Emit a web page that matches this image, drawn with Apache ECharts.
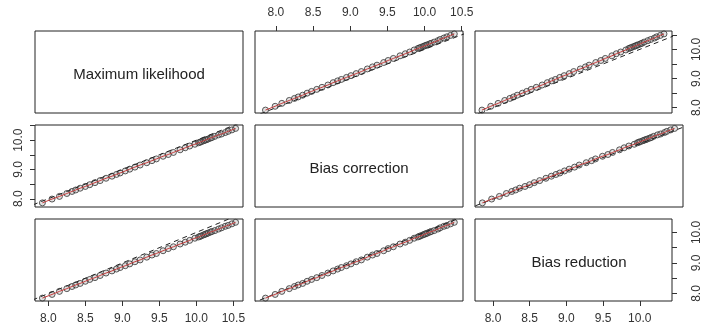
<!DOCTYPE html>
<html>
<head>
<meta charset="utf-8">
<script src="https://cdn.jsdelivr.net/npm/echarts@6/dist/echarts.min.js"></script>
<style>
	html, body { margin: 0; padding: 0; background: #fff; }
	#chart { width: 703px; height: 329px; }
</style>
</head>
<body>
<div id="chart"></div>
<script>
// variable names (diagonal of the pairs plot)
var varNames = ['Maximum likelihood', 'Bias correction', 'Bias reduction'];

// estimates, one entry per simulated sample
var ml = [7.92, 8.05, 8.15, 8.25, 8.32, 8.37, 8.43, 8.50, 8.56, 8.63, 8.70, 8.78, 8.86, 8.92, 8.97,
	9.04, 9.10, 9.17, 9.24, 9.33, 9.40, 9.46, 9.55, 9.62, 9.69, 9.78, 9.85, 9.91, 9.98, 10.03,
	10.05, 10.07, 10.10, 10.12, 10.14, 10.16, 10.19, 10.21, 10.25, 10.30, 10.34, 10.39, 10.43, 10.48, 10.53];
var bc = [7.86, 7.99, 8.08, 8.18, 8.25, 8.30, 8.36, 8.42, 8.48, 8.55, 8.62, 8.70, 8.77, 8.83, 8.88,
	8.95, 9.01, 9.08, 9.15, 9.23, 9.30, 9.36, 9.45, 9.51, 9.58, 9.67, 9.74, 9.80, 9.86, 9.91,
	9.93, 9.95, 9.98, 10.00, 10.02, 10.04, 10.07, 10.09, 10.13, 10.18, 10.21, 10.26, 10.30, 10.35, 10.40];
var br = [7.85, 7.97, 8.07, 8.16, 8.23, 8.28, 8.33, 8.40, 8.46, 8.52, 8.59, 8.67, 8.74, 8.80, 8.85,
	8.91, 8.97, 9.04, 9.10, 9.19, 9.26, 9.31, 9.40, 9.47, 9.53, 9.62, 9.68, 9.74, 9.81, 9.85,
	9.87, 9.89, 9.92, 9.94, 9.96, 9.98, 10.01, 10.03, 10.06, 10.11, 10.15, 10.20, 10.23, 10.28, 10.33];

// tick values per variable, labels drawn every whole unit on the vertical axes
var ticks = [
	[8.0, 8.5, 9.0, 9.5, 10.0, 10.5],
	[8.0, 8.5, 9.0, 9.5, 10.0, 10.5],
	[8.0, 8.5, 9.0, 9.5, 10.0]
];
var yLabelTicks = [8.0, 9.0, 10.0];
// identity line y = x
var refLine = [7.0, 11.0];

var vars = [ml, bc, br];
// axis ranges (data range padded 4% like R)
var ranges = [[7.82, 10.63], [7.719, 10.517], [7.755, 10.439]];

var lefts = [35, 255, 475];
var tops = [31, 125, 219];
var W = 208, H = 82;
var font = 'Liberation Sans, Arial, Helvetica, sans-serif';

var grids = [], xAxes = [], yAxes = [], series = [], titles = [];

function fmt(v) { return v.toFixed(1); }

for (var i = 0; i < 3; i++) {
	for (var j = 0; j < 3; j++) {
		var k = i * 3 + j;
		grids.push({
			left: lefts[j], top: tops[i], width: W, height: H,
			show: true, borderColor: '#222', borderWidth: 1, backgroundColor: 'transparent'
		});
		var showX = (i == 2 && j != 1) || (i == 0 && j == 1);
		var showY = (j == 0 && i == 1) || (j == 2 && i != 1);
		xAxes.push({
			type: 'value', gridIndex: k, min: ranges[j][0], max: ranges[j][1],
			position: i == 0 ? 'top' : 'bottom',
			axisLine: { show: false },
			splitLine: { show: false },
			axisTick: { show: showX, length: 5, lineStyle: { color: '#333' }, customValues: ticks[j] },
			axisLabel: { show: showX, margin: 12, color: '#333', fontSize: 12, fontFamily: font,
				customValues: ticks[j], formatter: fmt }
		});
		yAxes.push({
			type: 'value', gridIndex: k, min: ranges[i][0], max: ranges[i][1],
			position: j == 2 ? 'right' : 'left',
			axisLine: { show: false },
			splitLine: { show: false },
			axisTick: { show: showY, length: 5, lineStyle: { color: '#333' }, customValues: ticks[i] },
			axisLabel: { show: showY, margin: j == 2 ? 19 : 10, rotate: 90, color: '#333', fontSize: 12, fontFamily: font,
				customValues: yLabelTicks, formatter: fmt }
		});

		if (i == j) {
			titles.push({
				text: varNames[i],
				left: lefts[j] + W / 2, top: tops[i] + H / 2 + 3,
				padding: 0,
				textAlign: 'center', textVerticalAlign: 'middle',
				textStyle: { fontSize: 15, fontWeight: 'normal', color: '#222', fontFamily: font }
			});
			continue;
		}

		var pts = [];
		for (var n = 0; n < ml.length; n++) pts.push([vars[j][n], vars[i][n]]);
		pts.sort(function(a, b) { return a[0] - b[0]; });

		// dashed y = x
		series.push({
			type: 'line', xAxisIndex: k, yAxisIndex: k, clip: true,
			data: [[refLine[0], refLine[0]], [refLine[1], refLine[1]]],
			showSymbol: false, silent: true,
			lineStyle: { color: '#222', width: 1, type: [5, 4] }
		});
		// points
		series.push({
			type: 'scatter', xAxisIndex: k, yAxisIndex: k,
			data: pts, symbol: 'circle', symbolSize: 6,
			itemStyle: { color: 'rgba(150,150,150,0.35)', borderColor: '#333', borderWidth: 1 }
		});
		// smoother
		series.push({
			type: 'line', xAxisIndex: k, yAxisIndex: k,
			data: pts, showSymbol: false, silent: true,
			lineStyle: { color: '#c43c3c', width: 1 }
		});
	}
}

var myChart = echarts.init(document.getElementById('chart'));
myChart.setOption({
	animation: false,
	backgroundColor: '#fff',
	title: titles,
	grid: grids,
	xAxis: xAxes,
	yAxis: yAxes,
	series: series
});
</script>
</body>
</html>
